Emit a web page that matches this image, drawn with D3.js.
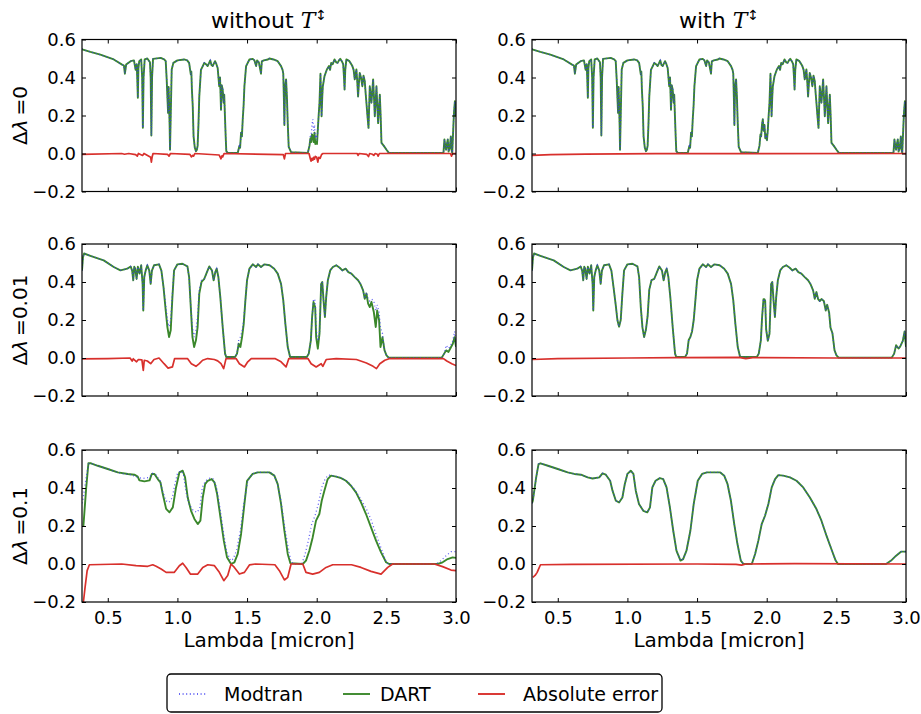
<!DOCTYPE html>
<html>
<head>
<meta charset="utf-8">
<script src="https://cdn.jsdelivr.net/npm/d3@7"></script>
<style>
  body { margin: 0; background: #fff; }
  text { font-family: "DejaVu Sans", sans-serif; fill: #000; }
</style>
</head>
<body>
<div id="chart"></div>
<script>
// ---- data: [lambda (micron), value] ----
const xTicks = [0.5, 1.0, 1.5, 2.0, 2.5, 3.0];
const yTicks = [-0.2, 0.0, 0.2, 0.4, 0.6];
const colTitles = ["without", "with"];
const rowLabels = ["0", "0.01", "0.1"];
const legendNames = ["Modtran", "DART", "Absolute error"];

// row 1 (d-lambda = 0), Modtran
const modtran1 = [[0.315,0.55],[0.322,0.547],[0.375,0.535],[0.447,0.52],[0.543,0.495],[0.603,0.468],[0.616,0.463],[0.623,0.42],[0.632,0.468],[0.664,0.486],[0.688,0.49],[0.70,0.44],[0.708,0.47],[0.712,0.39],[0.716,0.293],[0.72,0.45],[0.726,0.486],[0.74,0.495],[0.747,0.40],[0.752,0.135],[0.757,0.40],[0.765,0.495],[0.784,0.5],[0.803,0.48],[0.808,0.40],[0.813,0.095],[0.818,0.40],[0.825,0.498],[0.88,0.503],[0.905,0.495],[0.916,0.486],[0.923,0.39],[0.928,0.30],[0.933,0.214],[0.937,0.35],[0.94,0.267],[0.944,0.15],[0.947,0.02],[0.952,0.2],[0.959,0.442],[0.971,0.477],[1.0,0.49],[1.048,0.495],[1.07,0.49],[1.084,0.477],[1.096,0.416],[1.1,0.43],[1.104,0.337],[1.11,0.25],[1.116,0.09],[1.125,0.03],[1.133,0.012],[1.14,0.02],[1.145,0.04],[1.151,0.15],[1.157,0.30],[1.169,0.44],[1.193,0.477],[1.205,0.47],[1.217,0.46],[1.236,0.49],[1.245,0.465],[1.253,0.46],[1.27,0.486],[1.28,0.47],[1.289,0.45],[1.30,0.354],[1.306,0.40],[1.313,0.23],[1.318,0.36],[1.325,0.337],[1.332,0.267],[1.336,0.31],[1.342,0.18],[1.347,0.08],[1.351,0.012],[1.361,0.003],[1.433,0.003],[1.445,0.04],[1.45,0.03],[1.457,0.11],[1.463,0.09],[1.469,0.18],[1.475,0.25],[1.481,0.354],[1.493,0.46],[1.517,0.495],[1.541,0.498],[1.553,0.49],[1.565,0.46],[1.572,0.49],[1.585,0.48],[1.595,0.44],[1.60,0.42],[1.606,0.485],[1.62,0.49],[1.65,0.495],[1.66,0.5],[1.69,0.495],[1.72,0.486],[1.744,0.46],[1.755,0.44],[1.76,0.42],[1.764,0.3],[1.768,0.15],[1.773,0.35],[1.78,0.39],[1.786,0.3],[1.792,0.16],[1.799,0.035],[1.816,0.007],[1.936,0.003],[1.948,0.04],[1.955,0.1],[1.96,0.09],[1.966,0.15],[1.972,0.18],[1.978,0.12],[1.984,0.15],[1.99,0.08],[1.996,0.10],[2.002,0.07],[2.008,0.126],[2.014,0.2],[2.02,0.267],[2.027,0.42],[2.031,0.3],[2.035,0.196],[2.04,0.3],[2.044,0.354],[2.056,0.407],[2.073,0.442],[2.088,0.46],[2.096,0.44],[2.104,0.477],[2.115,0.47],[2.128,0.495],[2.14,0.48],[2.15,0.477],[2.16,0.49],[2.169,0.498],[2.18,0.486],[2.19,0.47],[2.196,0.4],[2.2,0.337],[2.205,0.44],[2.213,0.495],[2.235,0.486],[2.256,0.46],[2.265,0.44],[2.273,0.39],[2.285,0.442],[2.291,0.38],[2.297,0.30],[2.303,0.37],[2.309,0.424],[2.318,0.40],[2.328,0.354],[2.336,0.41],[2.345,0.38],[2.351,0.32],[2.357,0.267],[2.364,0.2],[2.372,0.135],[2.381,0.354],[2.393,0.267],[2.405,0.39],[2.411,0.3],[2.417,0.196],[2.429,0.354],[2.435,0.25],[2.441,0.16],[2.453,0.31],[2.459,0.2],[2.465,0.056],[2.482,0.04],[2.501,0.02],[2.518,0.003],[2.91,0.003],[2.917,0.074],[2.923,0.04],[2.929,0.02],[2.935,0.05],[2.941,0.074],[2.947,0.01],[2.955,0.03],[2.963,0.09],[2.968,0.02],[2.973,0.003],[2.982,0.16],[2.986,0.22],[2.992,0.275],[2.997,0.2],[3.0,0.196]];
// row 1, DART without T: where it leaves Modtran
const dart1LeftFix = [[1.948,0.04],[1.955,0.08],[1.96,0.06],[1.966,0.1],[1.972,0.09],[1.978,0.06],[1.984,0.11],[1.99,0.05],[1.996,0.056],[2.002,0.05],[2.008,0.126]];
const err1Left = [[0.315,-0.005],[0.6,0],[0.62,-0.004],[0.65,0],[0.70,-0.006],[0.712,-0.014],[0.72,0],[0.75,-0.01],[0.76,0],[0.808,-0.02],[0.813,-0.045],[0.818,-0.02],[0.825,0],[0.93,-0.005],[0.94,-0.014],[0.95,0],[1.09,-0.005],[1.1,-0.018],[1.11,-0.01],[1.116,-0.014],[1.125,0],[1.30,-0.008],[1.313,-0.028],[1.32,-0.012],[1.325,-0.018],[1.335,0],[1.76,-0.006],[1.768,-0.028],[1.776,0],[1.945,0],[1.955,-0.03],[1.96,-0.04],[1.966,-0.025],[1.972,-0.035],[1.978,-0.02],[1.984,-0.03],[1.99,-0.015],[2.0,-0.02],[2.008,-0.045],[2.015,-0.02],[2.025,-0.025],[2.035,-0.005],[2.045,0],[2.29,0],[2.297,-0.01],[2.305,0],[2.36,-0.005],[2.372,-0.016],[2.38,0],[2.4,-0.004],[2.41,-0.01],[2.42,0],[2.435,-0.004],[2.441,-0.014],[2.45,0],[2.96,0],[2.968,-0.014],[2.975,0],[3.0,0]];
const err1Right = [[0.315,-0.01],[0.45,-0.006],[0.7,-0.003],[1.2,-0.001],[3.0,0]];

// row 2 (d-lambda = 0.01), DART without T
const dart2Left = [[0.315,0.46],[0.322,0.53],[0.33,0.55],[0.375,0.538],[0.471,0.514],[0.543,0.479],[0.591,0.461],[0.64,0.47],[0.664,0.482],[0.675,0.46],[0.683,0.409],[0.69,0.48],[0.697,0.47],[0.707,0.416],[0.716,0.48],[0.728,0.444],[0.74,0.488],[0.75,0.39],[0.755,0.25],[0.762,0.426],[0.772,0.46],[0.784,0.488],[0.798,0.46],[0.808,0.39],[0.817,0.46],[0.832,0.488],[0.868,0.493],[0.885,0.46],[0.9,0.374],[0.916,0.25],[0.928,0.163],[0.94,0.11],[0.952,0.146],[0.964,0.32],[0.976,0.461],[1.0,0.493],[1.036,0.496],[1.072,0.482],[1.084,0.426],[1.096,0.268],[1.108,0.11],[1.12,0.058],[1.133,0.093],[1.145,0.163],[1.157,0.339],[1.173,0.4],[1.193,0.417],[1.212,0.452],[1.229,0.482],[1.248,0.46],[1.26,0.409],[1.272,0.452],[1.282,0.47],[1.294,0.426],[1.308,0.32],[1.325,0.163],[1.342,0.023],[1.351,0.005],[1.414,0.005],[1.428,0.023],[1.44,0.075],[1.452,0.058],[1.464,0.11],[1.476,0.18],[1.488,0.303],[1.5,0.41],[1.517,0.47],[1.541,0.493],[1.565,0.479],[1.578,0.493],[1.60,0.479],[1.625,0.493],[1.662,0.488],[1.695,0.47],[1.72,0.444],[1.744,0.39],[1.76,0.303],[1.775,0.18],[1.792,0.058],[1.809,0.005],[1.929,0.005],[1.943,0.023],[1.958,0.093],[1.967,0.216],[1.977,0.295],[1.983,0.28],[1.989,0.268],[1.996,0.11],[2.008,0.049],[2.02,0.128],[2.032,0.39],[2.04,0.4],[2.049,0.303],[2.059,0.216],[2.068,0.32],[2.08,0.409],[2.097,0.461],[2.116,0.479],[2.14,0.488],[2.165,0.475],[2.184,0.461],[2.208,0.47],[2.227,0.452],[2.249,0.444],[2.273,0.426],[2.297,0.409],[2.314,0.39],[2.333,0.356],[2.345,0.312],[2.357,0.339],[2.369,0.286],[2.381,0.268],[2.393,0.295],[2.41,0.242],[2.424,0.163],[2.434,0.25],[2.448,0.198],[2.458,0.058],[2.472,0.11],[2.487,0.04],[2.501,0.014],[2.516,0.002],[2.898,0.002],[2.915,0.023],[2.929,0.04],[2.946,0.032],[2.958,0.049],[2.977,0.075],[2.99,0.11],[3.0,0.058]];
// row 2, Modtran where it leaves that curve
const modtran2Fix = [
  [[0.916,0.28],[0.928,0.2],[0.94,0.165],[0.952,0.2],[0.964,0.34]],
  [[1.108,0.16],[1.12,0.11],[1.133,0.15],[1.145,0.22],[1.157,0.36],[1.173,0.41]],
  [[1.44,0.095],[1.452,0.11],[1.464,0.14],[1.476,0.2]],
  [[1.977,0.31],[1.983,0.31],[1.989,0.30],[1.996,0.15],[2.008,0.09]],
  [[2.357,0.347],[2.369,0.31],[2.381,0.30],[2.393,0.31],[2.41,0.30],[2.424,0.25],[2.434,0.28],[2.448,0.24],[2.458,0.16],[2.472,0.13]],
  [[2.929,0.067],[2.946,0.05],[2.958,0.06],[2.977,0.09],[2.99,0.14]]
];
const err2Left = [[0.315,-0.005],[0.5,-0.003],[0.66,0],[0.675,-0.016],[0.683,-0.004],[0.707,-0.02],[0.72,-0.008],[0.745,-0.01],[0.755,-0.065],[0.762,-0.012],[0.784,-0.016],[0.808,-0.03],[0.832,-0.008],[0.868,0],[0.904,-0.03],[0.933,-0.053],[0.964,-0.047],[0.98,-0.003],[1.072,-0.003],[1.1,-0.03],[1.133,-0.044],[1.157,-0.03],[1.181,-0.012],[1.217,-0.003],[1.265,-0.008],[1.289,-0.015],[1.313,-0.03],[1.332,-0.056],[1.349,-0.003],[1.421,-0.003],[1.445,-0.03],[1.481,-0.047],[1.505,-0.02],[1.53,-0.003],[1.70,-0.003],[1.744,-0.02],[1.78,-0.047],[1.80,-0.003],[1.937,-0.003],[1.96,-0.03],[1.996,-0.047],[2.032,-0.03],[2.044,-0.044],[2.068,-0.008],[2.14,-0.003],[2.285,-0.008],[2.357,-0.026],[2.405,-0.044],[2.429,-0.056],[2.453,-0.03],[2.489,-0.012],[2.525,-0.003],[2.91,-0.003],[2.934,-0.016],[2.97,-0.03],[3.0,-0.04]];
const err2Right = [[0.315,-0.008],[0.5,-0.003],[1.0,0],[1.35,0.002],[1.8,0.003],[1.85,-0.003],[1.9,0.002],[2.5,0],[3.0,0]];

// row 3 (d-lambda = 0.1)
const modtran3 = [[0.315,0.32],[0.321,0.333],[0.345,0.456],[0.362,0.526],[0.376,0.53],[0.429,0.517],[0.5,0.5],[0.571,0.482],[0.619,0.474],[0.667,0.47],[0.714,0.456],[0.75,0.45],[0.798,0.456],[0.821,0.477],[0.845,0.47],[0.876,0.438],[0.893,0.386],[0.917,0.333],[0.94,0.324],[0.964,0.35],[0.981,0.42],[1.0,0.474],[1.024,0.491],[1.043,0.474],[1.06,0.386],[1.083,0.316],[1.114,0.28],[1.143,0.272],[1.162,0.298],[1.179,0.403],[1.202,0.438],[1.233,0.452],[1.257,0.447],[1.281,0.403],[1.305,0.298],[1.329,0.175],[1.352,0.07],[1.381,0.018],[1.4,0.026],[1.424,0.07],[1.452,0.175],[1.476,0.316],[1.505,0.438],[1.536,0.474],[1.571,0.482],[1.619,0.482],[1.667,0.482],[1.695,0.465],[1.719,0.42],[1.743,0.333],[1.767,0.21],[1.79,0.105],[1.814,0.018],[1.833,0],[1.893,0],[1.917,0.053],[1.94,0.123],[1.964,0.21],[1.988,0.254],[2.012,0.316],[2.036,0.403],[2.06,0.447],[2.083,0.468],[2.119,0.465],[2.167,0.456],[2.214,0.438],[2.262,0.403],[2.31,0.35],[2.357,0.289],[2.393,0.228],[2.429,0.149],[2.464,0.079],[2.495,0.018],[2.512,0],[2.857,0],[2.893,0.018],[2.929,0.044],[2.964,0.065],[3.0,0.065]];
const dart3Left = [[0.325,0.2],[0.345,0.40],[0.361,0.53],[0.38,0.53],[0.428,0.517],[0.5,0.5],[0.572,0.482],[0.644,0.474],[0.691,0.47],[0.715,0.46],[0.727,0.44],[0.763,0.435],[0.8,0.44],[0.816,0.474],[0.835,0.474],[0.859,0.447],[0.878,0.43],[0.895,0.368],[0.919,0.29],[0.943,0.272],[0.967,0.298],[0.99,0.403],[1.014,0.482],[1.038,0.491],[1.055,0.456],[1.074,0.35],[1.098,0.28],[1.122,0.237],[1.146,0.21],[1.165,0.228],[1.182,0.35],[1.199,0.42],[1.218,0.438],[1.246,0.447],[1.266,0.43],[1.285,0.368],[1.309,0.246],[1.333,0.123],[1.356,0.035],[1.385,0.0],[1.409,0.009],[1.433,0.053],[1.457,0.158],[1.481,0.316],[1.5,0.438],[1.54,0.474],[1.577,0.482],[1.624,0.482],[1.66,0.482],[1.696,0.465],[1.72,0.42],[1.744,0.316],[1.768,0.175],[1.792,0.053],[1.811,0.004],[1.9,0],[1.923,0.018],[1.947,0.07],[1.971,0.14],[1.995,0.228],[2.019,0.263],[2.036,0.333],[2.055,0.386],[2.079,0.447],[2.103,0.465],[2.139,0.46],[2.175,0.452],[2.21,0.438],[2.246,0.412],[2.282,0.377],[2.318,0.324],[2.354,0.263],[2.39,0.193],[2.426,0.123],[2.462,0.061],[2.498,0.009],[2.52,0],[2.868,0],[2.904,0.009],[2.94,0.026],[2.976,0.035],[3.0,0.032]];
const err3Left = [[0.325,-0.2],[0.337,-0.123],[0.352,-0.035],[0.368,-0.004],[0.6,0],[0.703,-0.009],[0.787,-0.012],[0.823,-0.004],[0.847,-0.012],[0.883,-0.026],[0.919,-0.044],[0.978,-0.044],[1.014,-0.009],[1.038,0.004],[1.062,-0.018],[1.093,-0.053],[1.146,-0.053],[1.182,-0.018],[1.218,-0.004],[1.266,-0.009],[1.301,-0.044],[1.333,-0.088],[1.361,-0.061],[1.385,0],[1.409,-0.018],[1.445,-0.053],[1.481,-0.044],[1.517,-0.005],[1.56,0],[1.7,-0.004],[1.732,-0.035],[1.768,-0.084],[1.792,-0.07],[1.816,0],[1.9,0],[1.923,-0.044],[1.971,-0.053],[2.019,-0.044],[2.067,-0.018],[2.115,-0.004],[2.25,-0.004],[2.318,-0.018],[2.39,-0.039],[2.462,-0.053],[2.51,-0.018],[2.545,0],[2.844,0],[2.904,-0.014],[2.964,-0.032],[3.0,-0.035]];
const err3Right = [[0.321,-0.07],[0.337,-0.06],[0.352,-0.044],[0.366,-0.02],[0.376,-0.004],[0.6,-0.002],[1.5,0],[1.78,-0.002],[1.82,-0.006],[1.85,0],[2.2,0.002],[3.0,0]];

// swap in the stretches where one curve leaves the other
function withFix(base, fixes) {
  let out = base.slice();
  fixes.forEach(f => {
    const lo = f[0][0], hi = f[f.length - 1][0];
    out = out.filter(d => d[0] < lo || d[0] > hi).concat(f);
  });
  return out.sort((a, b) => a[0] - b[0]);
}
const dart1Left = withFix(modtran1, [dart1LeftFix]);
const modtran2 = withFix(dart2Left, modtran2Fix);

// panels: [row][col] -> {modtran, dart, err}
const panels = [
  [{modtran: modtran1, dart: dart1Left, err: err1Left}, {modtran: modtran1, dart: modtran1, err: err1Right}],
  [{modtran: modtran2, dart: dart2Left, err: err2Left}, {modtran: modtran2, dart: modtran2, err: err2Right}],
  [{modtran: modtran3, dart: dart3Left, err: err3Left}, {modtran: modtran3, dart: modtran3, err: err3Right}]
];

// ---- layout ----
const W = 921, H = 714;
const colX = [82, 532], rowY = [39.5, 244, 450];
const pw = 374, ph = 152;
const green = "#3a872b", red = "#d8302c", blue = "#3838f0";

const svg = d3.select("#chart").append("svg")
  .attr("width", W).attr("height", H)
  .style("background", "#fff");

const x = d3.scaleLinear().domain([0.315, 3.0]).range([0, pw]);
const y = d3.scaleLinear().domain([-0.2, 0.6]).range([ph, 0]);
const line = d3.line().x(d => x(d[0])).y(d => y(d[1]));
const fmt = d3.format(".1f");

panels.forEach((row, r) => {
  row.forEach((p, c) => {
    const g = svg.append("g").attr("transform", `translate(${colX[c]},${rowY[r]})`);
    const cid = `clip-${r}-${c}`;
    g.append("clipPath").attr("id", cid)
      .append("rect").attr("width", pw).attr("height", ph);

    const plot = g.append("g").attr("clip-path", `url(#${cid})`);
    plot.append("path").datum(p.dart)
      .attr("d", line).attr("fill", "none")
      .attr("stroke", green).attr("stroke-width", 1.9).attr("stroke-linejoin", "round");
    plot.append("path").datum(p.modtran)
      .attr("d", line).attr("fill", "none")
      .attr("stroke", blue).attr("stroke-width", 1.3)
      .attr("stroke-dasharray", "1,2.6").attr("opacity", 0.8);
    plot.append("path").datum(p.err)
      .attr("d", line).attr("fill", "none")
      .attr("stroke", red).attr("stroke-width", 1.7).attr("stroke-linejoin", "round");

    // axes, ticks pointing inward on all four sides
    const left = g.append("g").call(d3.axisLeft(y).tickValues(yTicks).tickSize(-4).tickPadding(6).tickFormat(fmt));
    const rightAx = g.append("g").attr("transform", `translate(${pw},0)`)
      .call(d3.axisRight(y).tickValues(yTicks).tickSize(-4).tickFormat(""));
    const top = g.append("g").call(d3.axisTop(x).tickValues(xTicks).tickSize(-4).tickFormat(""));
    const bottom = g.append("g").attr("transform", `translate(0,${ph})`)
      .call(d3.axisBottom(x).tickValues(xTicks).tickSize(-4).tickPadding(9)
        .tickFormat(r === 2 ? fmt : ""));
    [left, rightAx, top, bottom].forEach(a => {
      a.select(".domain").remove();
      a.selectAll("line").attr("stroke", "#000").attr("stroke-width", 1);
      a.selectAll("text").style("font-size", "18px").style("font-family", "DejaVu Sans");
    });

    g.append("rect").attr("width", pw).attr("height", ph)
      .attr("fill", "none").attr("stroke", "#000").attr("stroke-width", 1.2);

    if (r === 0) {
      const t = g.append("text").attr("x", pw / 2).attr("y", -12)
        .attr("text-anchor", "middle").style("font-size", "22px");
      t.append("tspan").text(colTitles[c] + " ");
      t.append("tspan").text("T").style("font-family", "DejaVu Serif").style("font-style", "italic");
      t.append("tspan").text("\u2195").attr("dy", -8).style("font-size", "14px");
    }
    if (r === 2) {
      g.append("text").attr("x", pw / 2).attr("y", ph + 45)
        .attr("text-anchor", "middle").style("font-size", "20px")
        .text("Lambda [micron]");
    }
    if (c === 0) {
      const t = g.append("text")
        .attr("transform", `translate(${-55},${ph / 2}) rotate(-90)`)
        .attr("text-anchor", "middle").style("font-size", "20px");
      t.append("tspan").text("\u0394");
      t.append("tspan").text("\u03bb").style("font-style", "italic");
      t.append("tspan").text("\u2009=" + rowLabels[r]);
    }
  });
});

// ---- legend ----
const lg = svg.append("g").attr("transform", "translate(167,674)");
lg.append("rect").attr("width", 495).attr("height", 38).attr("rx", 4)
  .attr("fill", "#fff").attr("stroke", "#000").attr("stroke-width", 1.3);
const items = [
  {name: legendNames[0], color: blue, dash: "1,2.6", x0: 12, tx: 57},
  {name: legendNames[1], color: green, dash: null, x0: 176, tx: 213},
  {name: legendNames[2], color: red, dash: null, x0: 311, tx: 356}
];
items.forEach(it => {
  lg.append("line").attr("x1", it.x0).attr("x2", it.x0 + 27)
    .attr("y1", 20).attr("y2", 20)
    .attr("stroke", it.color).attr("stroke-width", it.dash ? 1.3 : 1.9)
    .attr("stroke-dasharray", it.dash);
  lg.append("text").attr("x", it.tx).attr("y", 27)
    .style("font-size", "19px").text(it.name);
});
</script>
</body>
</html>
